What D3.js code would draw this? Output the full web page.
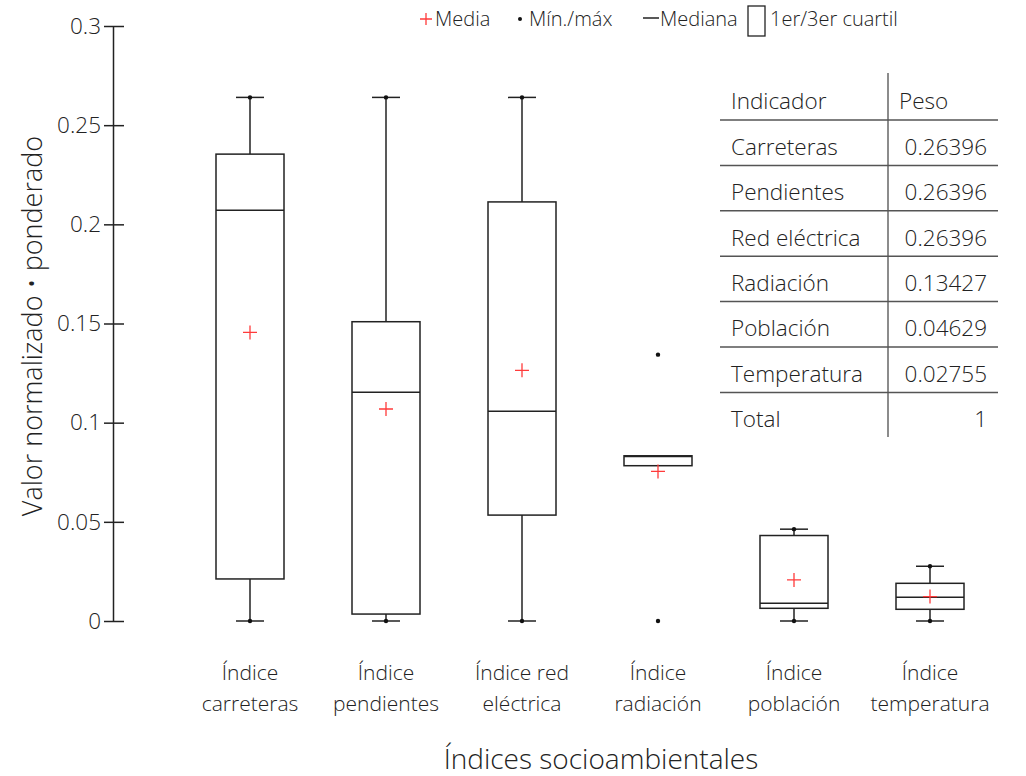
<!DOCTYPE html>
<html><head><meta charset="utf-8">
<script src="https://cdn.jsdelivr.net/npm/d3@7"></script>
<style>
body{margin:0;background:#fff;}
svg{display:block;font-family:"Open Sans","Noto Sans",sans-serif;font-weight:350;}
</style></head>
<body><svg id="c" width="1026" height="776"></svg>
<script>
const categories = ["Índice carreteras","Índice pendientes","Índice red eléctrica","Índice radiación","Índice población","Índice temperatura"];
const labelLines = [["Índice","carreteras"],["Índice","pendientes"],["Índice red","eléctrica"],["Índice","radiación"],["Índice","población"],["Índice","temperatura"]];
const minVals    = [0, 0, 0, 0, 0, 0];
const q1Vals     = [0.0212, 0.0035, 0.0534, 0.0783, 0.0064, 0.0059];
const medianVals = [0.2071, 0.1153, 0.1057, 0.0830, 0.0089, 0.0120];
const q3Vals     = [0.2354, 0.1509, 0.2113, 0.0833, 0.0431, 0.0190];
const maxVals    = [0.2640, 0.2640, 0.2640, 0.1343, 0.0463, 0.0276];
const meanVals   = [0.1455, 0.1069, 0.1264, 0.0754, 0.0207, 0.0123];
const whiskerLow = [0, 0, 0, 0.0783, 0, 0];
const whiskerHigh= [0.2640, 0.2640, 0.2640, 0.0833, 0.0463, 0.0276];
const yTicks = [0, 0.05, 0.1, 0.15, 0.2, 0.25, 0.3];
const tableIndicators = ["Indicador","Carreteras","Pendientes","Red eléctrica","Radiación","Población","Temperatura","Total"];
const tableWeights = ["Peso","0.26396","0.26396","0.26396","0.13427","0.04629","0.02755","1"];
const legendItems = ["Media","Mín./máx","Mediana","1er/3er cuartil"];

const svg = d3.select("#c");
const txt = "#222";
const y = d3.scaleLinear().domain([0,0.3]).range([621,26]);
const x = d3.scaleBand().domain(categories).range([182,998]).paddingInner(0.5).paddingOuter(0.25);

// y axis
const ax = svg.append("g").attr("transform","translate(113,0)")
  .call(d3.axisLeft(y).tickValues(yTicks).tickSize(9).tickSizeOuter(0).tickPadding(3)
        .tickFormat(d => d===0 ? "0" : String(+d.toFixed(2))));
ax.select(".domain").attr("stroke","#222").attr("stroke-width",1.5);
ax.selectAll(".tick line").attr("x1",-9).attr("x2",11).attr("stroke","#222").attr("stroke-width",1.5);
ax.selectAll(".tick text").attr("font-size",22.5).attr("fill",txt)
  .attr("font-family","'Open Sans', sans-serif").attr("font-weight",350);

svg.append("text").attr("transform","translate(42,326) rotate(-90)")
  .attr("text-anchor","middle").attr("font-size",27).attr("fill",txt)
  .text("Valor normalizado • ponderado");

// boxes
const g = svg.append("g");
categories.forEach((c,i)=>{
  const bw = x.bandwidth(), x0 = x(c), cx = x0 + bw/2;
  const cap = 14;
  if (whiskerHigh[i] > q3Vals[i]) {
    g.append("line").attr("x1",cx).attr("x2",cx).attr("y1",y(q3Vals[i])).attr("y2",y(whiskerHigh[i])).attr("stroke","#222").attr("stroke-width",1.5);
    g.append("line").attr("x1",cx-cap).attr("x2",cx+cap).attr("y1",y(whiskerHigh[i])).attr("y2",y(whiskerHigh[i])).attr("stroke","#222").attr("stroke-width",1.5);
  }
  if (whiskerLow[i] < q1Vals[i]) {
    g.append("line").attr("x1",cx).attr("x2",cx).attr("y1",y(q1Vals[i])).attr("y2",y(whiskerLow[i])).attr("stroke","#222").attr("stroke-width",1.5);
    g.append("line").attr("x1",cx-cap).attr("x2",cx+cap).attr("y1",y(whiskerLow[i])).attr("y2",y(whiskerLow[i])).attr("stroke","#222").attr("stroke-width",1.5);
  }
  g.append("rect").attr("x",x0).attr("y",y(q3Vals[i])).attr("width",bw)
    .attr("height",Math.max(1,y(q1Vals[i])-y(q3Vals[i])))
    .attr("fill","none").attr("stroke","#222").attr("stroke-width",1.5);
  g.append("line").attr("x1",x0).attr("x2",x0+bw).attr("y1",y(medianVals[i])).attr("y2",y(medianVals[i])).attr("stroke","#222").attr("stroke-width",1.5);
  [minVals[i],maxVals[i]].forEach(v=>{
    g.append("circle").attr("cx",cx).attr("cy",y(v)).attr("r",2.2).attr("fill","#111");
  });
  const my = y(meanVals[i]);
  g.append("path").attr("d",`M${cx-7},${my}H${cx+7}M${cx},${my-7}V${my+7}`)
    .attr("stroke","#ff3b3b").attr("stroke-width",1.3).attr("fill","none");
  const t = svg.append("text").attr("text-anchor","middle").attr("font-size",21).attr("fill",txt);
  labelLines[i].forEach((l,k)=>{
    t.append("tspan").attr("x",cx).attr("y",680+k*31).text(l);
  });
});

svg.append("text").attr("x",601).attr("y",769).attr("text-anchor","middle")
  .attr("font-size",28).attr("fill",txt).text("Índices socioambientales");

// legend
const lg = svg.append("g").attr("font-size",20).attr("fill",txt);
lg.append("path").attr("d","M420,19H432M426,13V25").attr("stroke","#ff3b3b").attr("stroke-width",1.3);
lg.append("text").attr("x",435).attr("y",26).text(legendItems[0]);
lg.append("circle").attr("cx",520).attr("cy",19).attr("r",2).attr("fill","#111");
lg.append("text").attr("x",529).attr("y",26).text(legendItems[1]);
lg.append("line").attr("x1",643).attr("x2",659).attr("y1",18).attr("y2",18).attr("stroke","#222").attr("stroke-width",1.5);
lg.append("text").attr("x",660).attr("y",26).text(legendItems[2]);
lg.append("rect").attr("x",748).attr("y",6).attr("width",17).attr("height",30).attr("fill","none").attr("stroke","#222").attr("stroke-width",1.3);
lg.append("text").attr("x",770).attr("y",26).text(legendItems[3]);

// table
const tb = svg.append("g").attr("font-size",22.5).attr("fill",txt);
const rowH = 45.4, firstLine = 120;
tb.append("line").attr("x1",888).attr("x2",888).attr("y1",73).attr("y2",437).attr("stroke","#666").attr("stroke-width",1.5);
for (let k=0;k<tableIndicators.length-1;k++){
  const ly = firstLine + k*rowH;
  tb.append("line").attr("x1",720).attr("x2",998).attr("y1",ly).attr("y2",ly).attr("stroke","#555").attr("stroke-width",1.5);
}
tableIndicators.forEach((s,k)=>{
  const cy = firstLine - rowH/2 + k*rowH + 12;
  tb.append("text").attr("x",731).attr("y",cy).text(s);
  if (k===0) tb.append("text").attr("x",899).attr("y",cy).text(tableWeights[k]);
  else tb.append("text").attr("x",987).attr("y",cy).attr("text-anchor","end").text(tableWeights[k]);
});
</script></body></html>
